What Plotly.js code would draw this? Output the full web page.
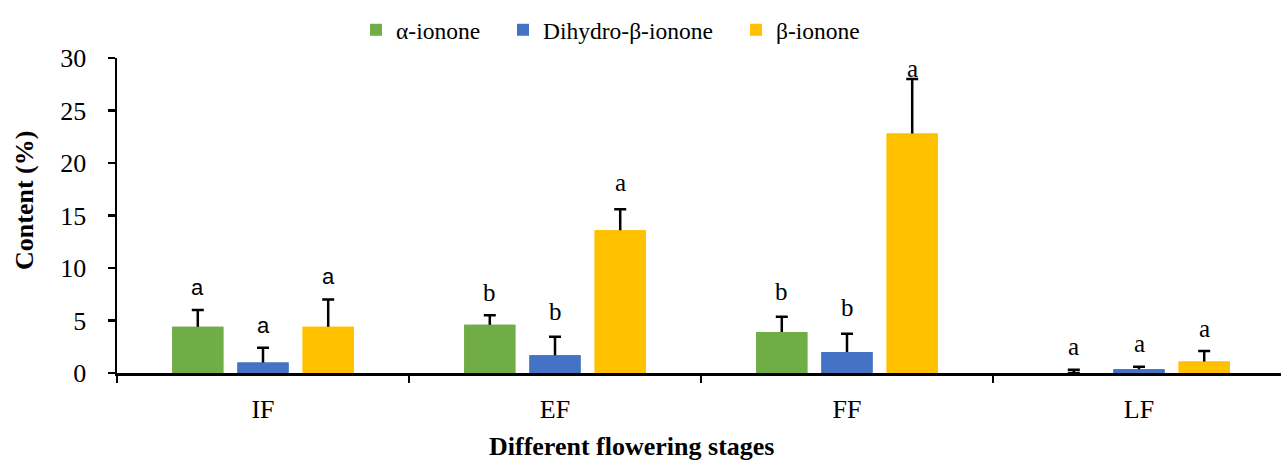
<!DOCTYPE html>
<html>
<head>
<meta charset="utf-8">
<script src="https://cdn.plot.ly/plotly-3.0.1.min.js"></script>
<style>html,body{margin:0;padding:0;background:#fff;}#chart{width:1281px;height:460px;}</style>
</head>
<body>
<div id="chart"></div>
<script>
const categories = ['IF', 'EF', 'FF', 'LF'];
const seriesNames = ['α-ionone', 'Dihydro-β-ionone', 'β-ionone'];
const alphaIonone = [4.4, 4.6, 3.9, 0];
const alphaErr = [1.6, 0.9, 1.45, 0.32];
const dihydroIonone = [1.0, 1.7, 2.0, 0.35];
const dihydroErr = [1.4, 1.75, 1.75, 0.25];
const betaIonone = [4.4, 13.6, 22.8, 1.1];
const betaErr = [2.6, 2.0, 5.2, 1.0];
const alphaLetters = ['a', 'b', 'b', 'a'];
const dihydroLetters = ['a', 'b', 'b', 'a'];
const betaLetters = ['a', 'a', 'a', 'a'];
const alphaLetterY = [8.1, 7.7, 7.75, 2.5];
const dihydroLetterY = [4.5, 5.9, 6.2, 2.8];
const betaLetterY = [9.2, 18.1, 29.0, 4.25];

const colors = ['#70AD47', '#4472C4', '#FFC000'];
const values = [alphaIonone, dihydroIonone, betaIonone];
const errs = [alphaErr, dihydroErr, betaErr];
const letters = [alphaLetters, dihydroLetters, betaLetters];
const letterY = [alphaLetterY, dihydroLetterY, betaLetterY];

const serif = 'Liberation Serif, Times New Roman, serif';
const sans = 'Liberation Sans, Arial, sans-serif';

const W = 1281, H = 460;
const margin = {l: 117, r: 0, t: 58, b: 87};
const catPx = 292;
const plotW = W - margin.l - margin.r;
const plotH = H - margin.t - margin.b;
const bargap = 0.33;
const pxX = p => (p - margin.l) / plotW;
const pxY = p => (H - margin.b - p) / plotH;

const legendIds = ['legend', 'legend2', 'legend3'];
const legendLeftPx = [356, 503, 736];

const traces = [];
for (let i = 0; i < 3; i++) {
  traces.push({
    type: 'bar', x: categories, y: values[i], name: seriesNames[i],
    offsetgroup: String(i), marker: {color: colors[i]}, legend: legendIds[i],
    error_y: {type: 'data', symmetric: false, array: errs[i], arrayminus: values[i],
      color: '#000', thickness: 2.5, width: 6},
    hoverinfo: 'y'
  });
}
for (let i = 0; i < 3; i++) {
  traces.push({
    type: 'bar', x: categories, y: values[i], name: seriesNames[i],
    offsetgroup: String(i), marker: {color: colors[i]},
    showlegend: false, hoverinfo: 'skip'
  });
}

const slotPx = catPx * (1 - bargap) / 3;
const annotations = [];
for (let i = 0; i < 3; i++) {
  for (let j = 0; j < categories.length; j++) {
    annotations.push({
      x: categories[j], y: letterY[i][j], xref: 'x', yref: 'y',
      text: letters[i][j], showarrow: false,
      xshift: (i - 1) * slotPx, yanchor: 'middle',
      font: j === 0 ? {family: sans, size: 22, color: '#000'} : {family: serif, size: 25, color: '#000'}
    });
  }
}
annotations.push({
  text: 'Content (%)', textangle: -90, showarrow: false,
  xref: 'paper', yref: 'paper', x: pxX(24), y: pxY(201), xanchor: 'center', yanchor: 'middle',
  font: {family: serif, size: 26, color: '#000', weight: 'bold'}
});
annotations.push({
  text: 'Different flowering stages', showarrow: false,
  xref: 'paper', yref: 'paper', x: pxX(631), y: pxY(446), xanchor: 'center', yanchor: 'middle',
  font: {family: serif, size: 26, color: '#000', weight: 'bold'}
});

const legendFont = {family: serif, size: 23.5, color: '#000'};
const layout = {
  width: W, height: H, margin: margin,
  paper_bgcolor: '#fff', plot_bgcolor: '#fff',
  barmode: 'group', bargap: bargap, bargroupgap: 0.215,
  showlegend: true,
  xaxis: {
    type: 'category', range: [-0.5, -0.5 + plotW / catPx],
    showline: true, linecolor: '#000', linewidth: 2.5,
    ticks: 'outside', tickson: 'boundaries', ticklen: 7, tickwidth: 2.5, tickcolor: '#000',
    tickfont: {family: serif, size: 26, color: '#000'}, ticklabelstandoff: 11,
    showgrid: false, zeroline: false
  },
  yaxis: {
    range: [0, 30], dtick: 5, tick0: 0,
    showline: true, linecolor: '#000', linewidth: 2.5,
    ticks: 'outside', ticklen: 7, tickwidth: 2.5, tickcolor: '#000',
    tickfont: {family: serif, size: 26, color: '#000'}, ticklabelstandoff: 16,
    showgrid: false, zeroline: false
  },
  annotations: annotations
};
legendIds.forEach((id, i) => {
  layout[id] = {orientation: 'h', x: pxX(legendLeftPx[i]), xanchor: 'left', y: pxY(30), yanchor: 'middle',
    font: legendFont, bgcolor: 'rgba(0,0,0,0)'};
});

Plotly.newPlot('chart', traces, layout, {displayModeBar: false, staticPlot: true});
</script>
</body>
</html>
